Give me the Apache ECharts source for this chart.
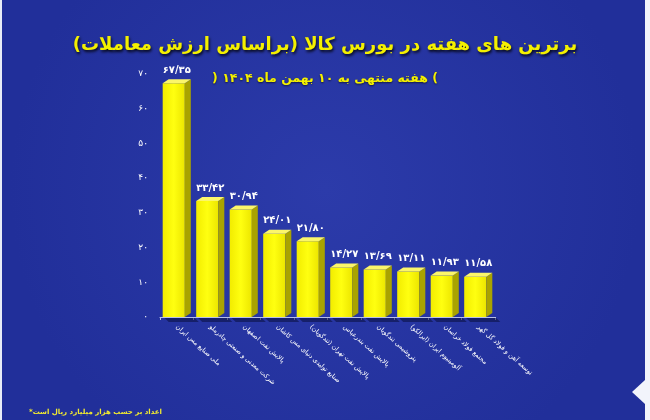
<!DOCTYPE html>
<html><head><meta charset="utf-8">
<script src="https://cdn.jsdelivr.net/npm/echarts@6/dist/echarts.min.js"></script>
<style>html,body{margin:0;padding:0;background:#2333a0}#c{width:650px;height:420px}</style>
</head><body><div id="c"></div>
<script>
var categories = [
  'ملی صنایع مس ایران',
  'شرکت معدنی و صنعتی چادرملو',
  'پالایش نفت اصفهان',
  'صنایع تولیدی دنیای مس کاشان',
  'پالایش نفت تهران (تندگویان)',
  'پالایش نفت بندرعباس',
  'پتروشیمی تندگویان',
  'آلومینیوم ایران (ایرالکو)',
  'مجتمع فولاد خراسان',
  'توسعه آهن و فولاد گل گهر'
];
var values = [67.35, 33.42, 30.94, 24.01, 21.80, 14.27, 13.69, 13.11, 11.93, 11.58];
var yTicks = [0, 10, 20, 30, 40, 50, 60, 70];
var titleText = 'برترین های هفته در بورس کالا (براساس ارزش معاملات)';
var subtitleText = 'هفته منتهی به ۱۰ بهمن ماه ۱۴۰۴';
var footText = '*اعداد بر حسب هزار میلیارد ریال است';

function fa(s){ return String(s).replace(/[0-9]/g, function(d){ return '۰۱۲۳۴۵۶۷۸۹'[+d]; }); }
var FONT = '"DejaVu Sans", sans-serif';

var chart = echarts.init(document.getElementById('c'), null, {renderer:'canvas'});
chart.setOption({
  backgroundColor: {
    type:'radial', x:0.5, y:0.45, r:0.75,
    colorStops:[{offset:0,color:'#2c3baa'},{offset:1,color:'#212f9a'}]
  },
  animation:false,
  title:[
    {text:titleText, left:'center', top:31,
     textStyle:{color:'#f4f000', fontSize:18, fontWeight:'bold', fontFamily:FONT,
       textShadowColor:'rgba(0,0,0,0.85)', textShadowBlur:3, textShadowOffsetX:1, textShadowOffsetY:2}},
    {text:') ' + subtitleText + ' (', left:'center', top:67,
     textStyle:{color:'#f4f000', fontSize:12.5, fontWeight:'bold', fontFamily:FONT,
       textShadowColor:'rgba(0,0,0,0.6)', textShadowBlur:2, textShadowOffsetY:1}},
    {text:footText, left:24, top:404,
     textStyle:{color:'#f0ea30', fontSize:7, fontWeight:'bold', fontFamily:FONT}}
  ],
  grid:{left:160, right:155, top:74, bottom:103},
  xAxis:{
    type:'category', data:categories,
    axisLine:{show:true, lineStyle:{color:'#b8c0e8', width:1}},
    axisTick:{show:true, alignWithLabel:false, lineStyle:{color:'#b8c0e8'}, length:3},
    axisLabel:{color:'#ffffff', fontSize:6.5, fontFamily:FONT, rotate:-42, margin:9, interval:0}
  },
  yAxis:{
    type:'value', min:0, max:70, interval:10,
    splitLine:{show:false}, axisLine:{show:false}, axisTick:{show:false},
    axisLabel:{color:'#ffffff', fontSize:9, fontFamily:FONT, margin:12,
      formatter:function(v){ return yTicks.indexOf(v) >= 0 ? fa(v) : ''; }}
  },
  series:[{
    type:'custom',
    data: values.map(function(v,i){ return [i, v]; }),
    encode:{x:0, y:1},
    renderItem:function(params, api){
      var i = api.value(0), v = api.value(1);
      var top = api.coord([i, v]);
      var base = api.coord([i, 0]);
      var band = api.size([1, 0])[0];
      var w = band * 0.66, dx = 6, dy = 4;
      var x0 = top[0] - w/2 - dx/2, x1 = x0 + w;
      return {
        type:'group',
        children:[
          {type:'polygon', shape:{points:[[x0+2, base[1]+1],[x1+dx+4, base[1]+1],[x1+dx+8, base[1]+5],[x0+6, base[1]+5]]},
            style:{fill:'rgba(10,15,60,0.55)'}},
          {type:'rect', shape:{x:x0, y:top[1], width:w, height:base[1]-top[1]},
            style:{fill:{type:'linear',x:0,y:0,x2:1,y2:0,colorStops:[{offset:0,color:'#f2ec00'},{offset:0.5,color:'#ffff10'},{offset:1,color:'#ece600'}]}}},
          {type:'polygon', shape:{points:[[x1, top[1]],[x1+dx, top[1]-dy],[x1+dx, base[1]-dy],[x1, base[1]]]},
            style:{fill:'#a9a300'}},
          {type:'polygon', shape:{points:[[x0, top[1]],[x0+dx, top[1]-dy],[x1+dx, top[1]-dy],[x1, top[1]]]},
            style:{fill:'#fbf66a'}},
          {type:'text', style:{text:fa(v.toFixed(2)).replace('.', '/'), x:top[0], y:top[1]-8,
            align:'center', verticalAlign:'bottom', fill:'#ffffff', font:'bold 10px ' + FONT}}
        ]
      };
    }
  }],
  graphic:[
    {type:'rect', left:0, top:0, shape:{width:2, height:420}, style:{fill:'#e8ecf8'}},
    {type:'rect', right:0, top:0, shape:{width:5, height:420}, style:{fill:'#f2f4fb'}},
    {type:'polygon', shape:{points:[[645,380],[632,392],[645,404]]}, style:{fill:'#f2f4fb'}}
  ]
});
</script></body></html>
